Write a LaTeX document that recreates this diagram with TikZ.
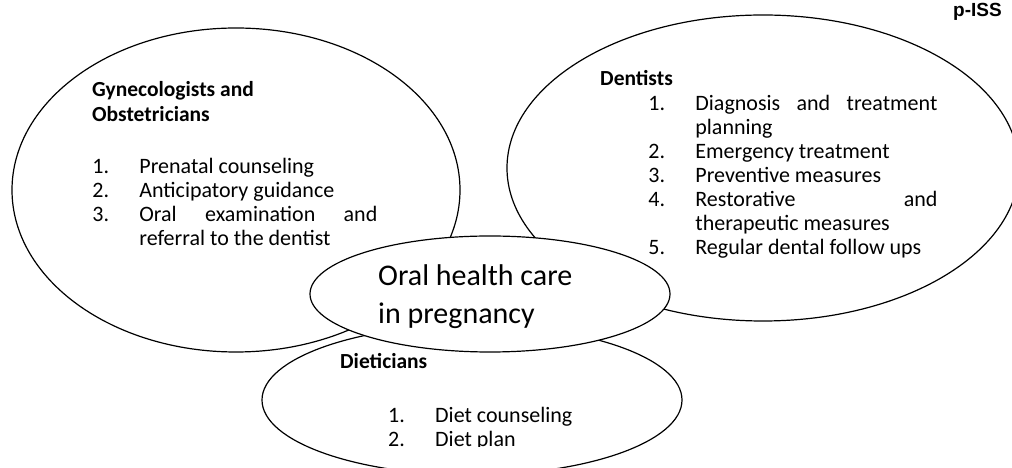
\documentclass[tikz,border=0pt]{standalone}
\usepackage{fontspec}
\setmainfont{Carlito}
\newfontfamily\issfont{Liberation Sans}
\usepackage{tikz}
\usetikzlibrary{matrix,shapes.geometric,positioning}
\pgfkeys{tikz/myoval/.style={ellipse,draw,line width=1.2pt,inner sep=0pt}}
\pgfkeys{tikz/myhead/.style={anchor=base west,inner sep=0pt,font=\bfseries\fontsize{21.5}{24}\selectfont}}
\pgfkeys{tikz/mytitle/.style={anchor=base west,inner sep=0pt,font=\fontsize{30}{36}\selectfont}}
\pgfkeys{tikz/mylist/.style={matrix of nodes,anchor=north west,inner sep=0pt,column sep=0pt,row sep=0pt,
    nodes={inner sep=0pt,anchor=base west,text height=17pt,text depth=7pt,font=\fontsize{22}{24}\selectfont},
    column 1/.style={nodes={text width=47pt}}}}
\newcommand\myheadgap{25pt}
\newcommand\mytitlegap{38pt}

\begin{document}
\begin{tikzpicture}[x=1pt,y=1pt]
    \useasboundingbox (0,0) rectangle (1012,468);
    \clip (0,0) rectangle (1012,468);
    % the three groups
    \node[myoval,minimum width=448pt,minimum height=324pt] (gyn) at (236,278) {};
    \node[myoval,minimum width=512pt,minimum height=306pt] (dent) at (763,300) {};
    \node[myoval,minimum width=420pt,minimum height=150pt] (diet) at (472,68) {};
    % centre on top
    \node[myoval,fill=white,minimum width=360pt,minimum height=116pt] (care) at (490,174) {};
    \node[mytitle] (title1) at (378,182) {Oral health care};
    \node[mytitle] (title2) at ([yshift=-\mytitlegap]title1.base west) {in pregnancy};

    \node[myhead] (gynhead) at (92,371) {Gynecologists and};
    \node[myhead] (obshead) at ([yshift=-\myheadgap]gynhead.base west) {Obstetricians};
    \matrix[mylist] (gynlist) at (92,312) {
        1. & Prenatal counseling \\
        2. & Anticipatory guidance \\
        3. & \makebox[238pt][s]{Oral examination and} \\
           & referral to the dentist \\
    };

    \node[myhead] (denthead) at (600,382) {Dentists};
    \matrix[mylist] (dentlist) at (648,375) {
        1. & \makebox[242pt][s]{Diagnosis and treatment} \\
           & planning \\
        2. & Emergency treatment \\
        3. & Preventive measures \\
        4. & \makebox[242pt][s]{Restorative and} \\
           & therapeutic measures \\
        5. & Regular dental follow ups \\
    };

    \node[myhead] (diethead) at (340,99) {Dieticians};
    \begin{scope}
        \clip (0,21) rectangle (1012,468);
        \matrix[mylist] (dietlist) at (388,63) {
            1. & Diet counseling \\
            2. & Diet plan \\
        };
    \end{scope}

    \node[anchor=base west,inner sep=0pt,font=\issfont\bfseries\fontsize{19}{24}\selectfont] (iss) at (953,451) {p-ISS};
\end{tikzpicture}
\end{document}
